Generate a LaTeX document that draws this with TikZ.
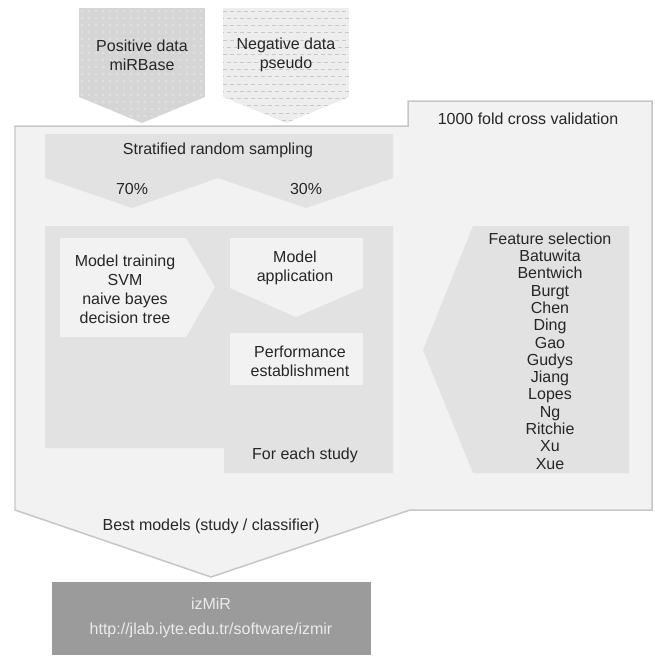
\documentclass[tikz,border=0pt]{standalone}
\usepackage{fontspec}
\setmainfont{Liberation Sans}

\definecolor{panelgray}{HTML}{F2F2F2}
\definecolor{edgegray}{HTML}{C6C6C6}
\definecolor{boxgray}{HTML}{E2E2E2}
\definecolor{posgray}{HTML}{D5D5D5}
\definecolor{neggray}{HTML}{EDEDED}
\definecolor{dashgray}{HTML}{C9C9C9}
\definecolor{darkbox}{HTML}{9B9B9B}
\definecolor{txt}{HTML}{262626}

\tikzset{
  lbl/.style={text=txt, inner sep=0pt, align=center, font=\fontsize{9.1}{10.8}\selectfont},
  lbllist/.style={lbl, font=\fontsize{9.1}{9.85}\selectfont},
  dashrow/.style={dashgray, line width=0.02cm, dash pattern=on 0.08cm off 0.06cm},
}

\begin{document}
\begin{tikzpicture}[x=0.02cm, y=-0.02cm]
  \useasboundingbox (0,0) rectangle (654,656);

  % cross validation panel with the output arrow
  \filldraw[fill=panelgray, draw=edgegray, line width=0.03cm, line join=miter]
    (15,126) -- (408,126) -- (408,101) -- (652,101) -- (652,510) -- (410,510)
    -- (211,577) -- (15,510) -- cycle;
  \node[lbl] (cv) at (528,119) {1000 fold cross validation};
  \node[lbl] (best) at (211,526) {Best models (study / classifier)};

  % input data arrows
  \begin{scope}
    \clip (79,8) -- (205,8) -- (205,97) -- (142,123) -- (79,97) -- cycle;
    \fill[posgray] (79,8) rectangle (205,123);
    \foreach \i in {0,...,18}
      \foreach \j in {0,...,17}
        \fill[white!55!posgray] ({82+\i*7},{11+\j*7}) circle (0.018cm);
  \end{scope}
  \begin{scope}
    \clip (223,8) -- (349,8) -- (349,97) -- (286,123) -- (223,97) -- cycle;
    \fill[neggray] (223,8) rectangle (349,123);
    \foreach \j in {0,2,...,16}
      \draw[dashrow] (223,{11+\j*7.3}) -- (349,{11+\j*7.3});
    \foreach \j in {1,3,...,15}
      \draw[dashrow, dash phase=0.07cm] (223,{11+\j*7.3}) -- (349,{11+\j*7.3});
  \end{scope}
  \node[lbl] (pos) at (142,55) {Positive data\\miRBase};
  \node[lbl] (neg) at (286,55) {Negative data\\pseudo};

  % sampling split
  \fill[boxgray] (45,134) -- (393,134) -- (393,178) -- (306,208) -- (218,178)
    -- (132,208) -- (45,178) -- cycle;
  \node[lbl] (strat) at (218,150) {Stratified random sampling};
  \node[lbl] (p70) at (132,189) {70\%};
  \node[lbl] (p30) at (306,189) {30\%};

  % per study block
  \fill[boxgray] (45,226) -- (393,226) -- (393,473) -- (224,473) -- (224,448)
    -- (45,448) -- cycle;
  \node[lbl] (study) at (305,455) {For each study};

  \fill[panelgray] (60,238) -- (186,238) -- (215,287) -- (186,337) -- (60,337) -- cycle;
  \node[lbl] (train) at (125,289) {Model training\\SVM\\naive bayes\\decision tree};

  \fill[panelgray] (230,238) -- (363,238) -- (363,288) -- (296,317) -- (230,288) -- cycle;
  \node[lbl] (apply) at (295,268) {Model\\application};

  \fill[panelgray] (230,333) rectangle (363,385);
  \node[lbl] (perf) at (300,361) {Performance\\establishment};

  % feature sets
  \fill[boxgray] (473,226) -- (629,226) -- (629,473) -- (473,473) -- (423,350) -- cycle;
  \node[lbllist] (feat) at (550,351) {Feature selection\\Batuwita\\Bentwich\\Burgt\\Chen\\Ding\\Gao\\Gudys\\Jiang\\Lopes\\Ng\\Ritchie\\Xu\\Xue};

  % tool
  \fill[darkbox] (52,582) rectangle (371,655);
  \node[lbl, text=white!92!black, font=\fontsize{9.1}{14.2}\selectfont] (izmir) at (211,618)
    {izMiR\\http://jlab.iyte.edu.tr/software/izmir};
\end{tikzpicture}
\end{document}
